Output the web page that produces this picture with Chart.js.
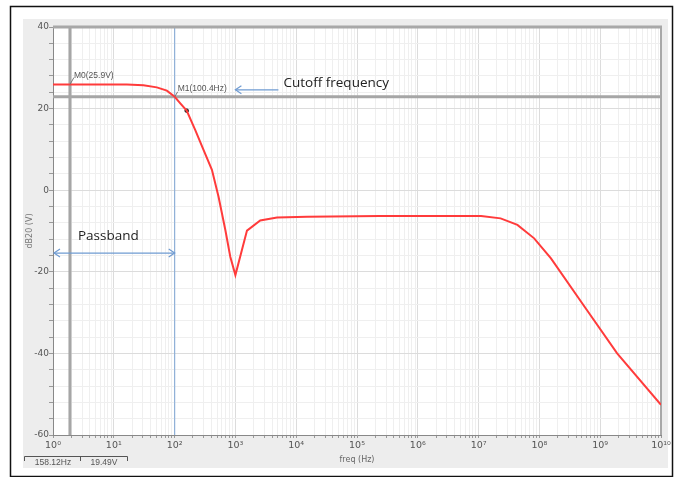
<!DOCTYPE html>
<html>
<head>
<meta charset="utf-8">
<script src="https://cdn.jsdelivr.net/npm/chart.js@4"></script>
<style>
  body { margin: 0; background: #fff; }
  canvas { display: block; }
</style>
</head>
<body>
<canvas id="bode" width="679" height="477"></canvas>
<script>
// frequency response
const freqHz = [1, 10, 16.4, 30.7, 51, 74.6, 100.4, 124, 158, 218, 299, 411, 528, 682, 824, 1000,
  1550, 2560, 4840, 15100, 2.4e5, 1.1e7, 2.3e7, 4.35e7, 8.2e7, 1.55e8, 5.5e8, 1.9e9, 1e10];
const gainDb = [25.9, 25.9, 25.9, 25.7, 25.2, 24.4, 22.9, 21.3, 19.5, 14.8, 9.9, 5.0, -1.6, -9.7, -16.3, -20.8,
  -9.9, -7.4, -6.7, -6.5, -6.3, -6.3, -6.9, -8.5, -11.8, -16.7, -28.5, -40, -52.6];

const cursorFreq = [158.12];
const cursorGain = [19.49];
const markerM0 = { freq: 1.9, gain: 25.9, text: 'M0(25.9V)' };
const markerM1 = { freq: 100.4, gain: 22.9, text: 'M1(100.4Hz)' };

const decadeLabels = ['10⁰', '10¹', '10²', '10³', '10⁴', '10⁵', '10⁶', '10⁷', '10⁸', '10⁹', '10¹⁰'];
const decadeSteps = [1, 2, 3, 4, 5, 6, 7, 8, 9];
const yLabels = [40, 20, 0, -20, -40, -60];

const xTicks = [];
decadeLabels.forEach((_, e) => {
  decadeSteps.forEach(m => {
    const v = m * Math.pow(10, e);
    if (v <= 1e10) xTicks.push(v);
  });
});

function isDecade(v) {
  const l = Math.log10(v);
  return Math.abs(l - Math.round(l)) < 1e-9;
}

const frame = {
  id: 'frame',
  beforeDraw(chart) {
    const { ctx, chartArea: a } = chart;
    ctx.save();
    ctx.fillStyle = '#fff';
    ctx.fillRect(0, 0, chart.width, chart.height);
    ctx.fillStyle = '#ededed';
    ctx.fillRect(23, 19, 645, 449);
    ctx.fillStyle = '#fff';
    ctx.fillRect(a.left, a.top, a.width, a.height);
    ctx.strokeStyle = '#111';
    ctx.lineWidth = 1.5;
    ctx.strokeRect(10.5, 6.5, 662, 470);
    ctx.restore();
  }
};

function seg(ctx, x1, y1, x2, y2) {
  ctx.beginPath();
  ctx.moveTo(x1, y1);
  ctx.lineTo(x2, y2);
  ctx.stroke();
}

function chevron(ctx, x, y, dir) {
  ctx.beginPath();
  ctx.moveTo(x - dir * 6, y - 4);
  ctx.lineTo(x, y);
  ctx.lineTo(x - dir * 6, y + 4);
  ctx.stroke();
}

const markers = {
  id: 'markers',
  beforeDatasetsDraw(chart) {
    const { ctx, chartArea: a, scales: { x, y } } = chart;
    ctx.save();
    ctx.beginPath();
    ctx.rect(a.left, a.top, a.width, a.height);
    ctx.clip();
    ctx.strokeStyle = '#a6a6a6';
    ctx.lineWidth = 3;
    const m0x = x.getPixelForValue(markerM0.freq);
    seg(ctx, m0x, a.top, m0x, a.bottom);
    const hy = y.getPixelForValue(markerM1.gain);
    seg(ctx, a.left, hy, a.right, hy);
    ctx.strokeStyle = '#7ea6d6';
    ctx.lineWidth = 1;
    const m1x = x.getPixelForValue(markerM1.freq);
    seg(ctx, m1x, a.top, m1x, a.bottom);
    ctx.restore();

    ctx.save();
    ctx.strokeStyle = '#a8a8a8';
    ctx.lineWidth = 3;
    seg(ctx, a.left, a.top, a.right + 1, a.top);
    ctx.lineWidth = 2;
    seg(ctx, a.right, a.top, a.right, a.bottom);
    ctx.restore();
  },
  afterDraw(chart) {
    const { ctx, chartArea: a, scales: { x, y } } = chart;
    ctx.save();
    // marker labels
    ctx.strokeStyle = '#777';
    ctx.lineWidth = 1;
    ctx.fillStyle = '#555';
    ctx.font = '8.5px "Liberation Sans", sans-serif';
    ctx.textBaseline = 'middle';
    const m0x = x.getPixelForValue(markerM0.freq), m0y = y.getPixelForValue(markerM0.gain);
    seg(ctx, m0x, m0y, m0x + 4, m0y - 7);
    ctx.fillText(markerM0.text, m0x + 4, m0y - 9);
    const m1x = x.getPixelForValue(markerM1.freq), m1y = y.getPixelForValue(markerM1.gain);
    seg(ctx, m1x, m1y, m1x + 3, m1y - 5);
    ctx.fillText(markerM1.text, m1x + 3, m1y - 8);

    // cutoff arrow
    ctx.strokeStyle = '#6f9bd2';
    ctx.lineWidth = 1.2;
    const ay = y.getPixelForValue(24.6);
    const ax1 = x.getPixelForValue(1000), ax2 = x.getPixelForValue(5100);
    seg(ctx, ax1, ay, ax2, ay);
    chevron(ctx, ax1, ay, -1);
    ctx.fillStyle = '#222';
    ctx.font = '13.5px "Open Sans", sans-serif';
    ctx.fillText('Cutoff frequency', ax2 + 5, ay - 7);

    // passband arrow
    const py = y.getPixelForValue(-15.4);
    seg(ctx, a.left + 1, py, m1x, py);
    chevron(ctx, a.left + 1, py, -1);
    chevron(ctx, m1x, py, 1);
    ctx.fillText('Passband', a.left + 25, py - 17);

    // cursor readout
    ctx.strokeStyle = '#555';
    ctx.lineWidth = 1;
    ctx.beginPath();
    ctx.moveTo(24.5, 461); ctx.lineTo(24.5, 456.5); ctx.lineTo(127.5, 456.5); ctx.lineTo(127.5, 461);
    ctx.moveTo(80.5, 456.5); ctx.lineTo(80.5, 461);
    ctx.stroke();
    ctx.fillStyle = '#555';
    ctx.font = '8.5px "Liberation Sans", sans-serif';
    ctx.textAlign = 'center';
    ctx.fillText(cursorFreq[0].toFixed(2) + 'Hz', 53, 463);
    ctx.fillText(cursorGain[0].toFixed(2) + 'V', 104, 463);
    ctx.restore();
  }
};

new Chart(document.getElementById('bode'), {
  type: 'line',
  data: {
    datasets: [{
      data: freqHz.map((f, i) => ({ x: f, y: gainDb[i] })),
      borderColor: '#ff3b3b',
      borderWidth: 2,
      pointRadius: 0,
      tension: 0
    }, {
      data: cursorFreq.map((f, i) => ({ x: f, y: cursorGain[i] })),
      showLine: false,
      pointRadius: 1.8,
      pointBackgroundColor: '#222',
      pointBorderColor: '#222'
    }]
  },
  options: {
    responsive: false,
    animation: false,
    layout: { padding: { left: 0, top: 27, right: 18, bottom: 0 } },
    plugins: { legend: { display: false }, tooltip: { enabled: false } },
    scales: {
      x: {
        type: 'logarithmic',
        min: 1,
        max: 1e10,
        afterBuildTicks(scale) { scale.ticks = xTicks.map(v => ({ value: v })); },
        afterFit(scale) { scale.height = 42; },
        grid: {
          color: c => (c.tick && isDecade(c.tick.value)) ? '#dcdcdc' : '#efefef',
          tickLength: 3,
          tickColor: '#999'
        },
        border: { color: '#888' },
        ticks: {
          autoSkip: false,
          maxRotation: 0,
          padding: 2,
          color: '#555',
          font: { family: '"DejaVu Sans", sans-serif', size: 9.5 },
          callback: v => isDecade(v) ? decadeLabels[Math.round(Math.log10(v))] : ''
        },
        title: {
          display: true,
          text: 'freq (Hz)',
          color: '#666',
          font: { family: '"DejaVu Sans", sans-serif', size: 8 },
          padding: { top: 0, bottom: 12 }
        }
      },
      y: {
        min: -60,
        max: 40,
        afterFit(scale) { scale.width = 53; },
        grid: {
          color: c => (c.tick && c.tick.value % 20 === 0) ? '#dcdcdc' : '#efefef',
          tickLength: 4,
          tickColor: '#999'
        },
        border: { color: '#888' },
        ticks: {
          stepSize: 4,
          autoSkip: false,
          padding: 0,
          color: '#555',
          font: { family: '"DejaVu Sans", sans-serif', size: 9 },
          callback: v => yLabels.includes(v) ? String(v) : ''
        },
        title: {
          display: true,
          text: 'dB20 (V)',
          color: '#777',
          font: { family: '"DejaVu Sans", sans-serif', size: 8 },
          padding: { top: 25, bottom: 0 }
        }
      }
    }
  },
  plugins: [frame, markers]
});
</script>
</body>
</html>
